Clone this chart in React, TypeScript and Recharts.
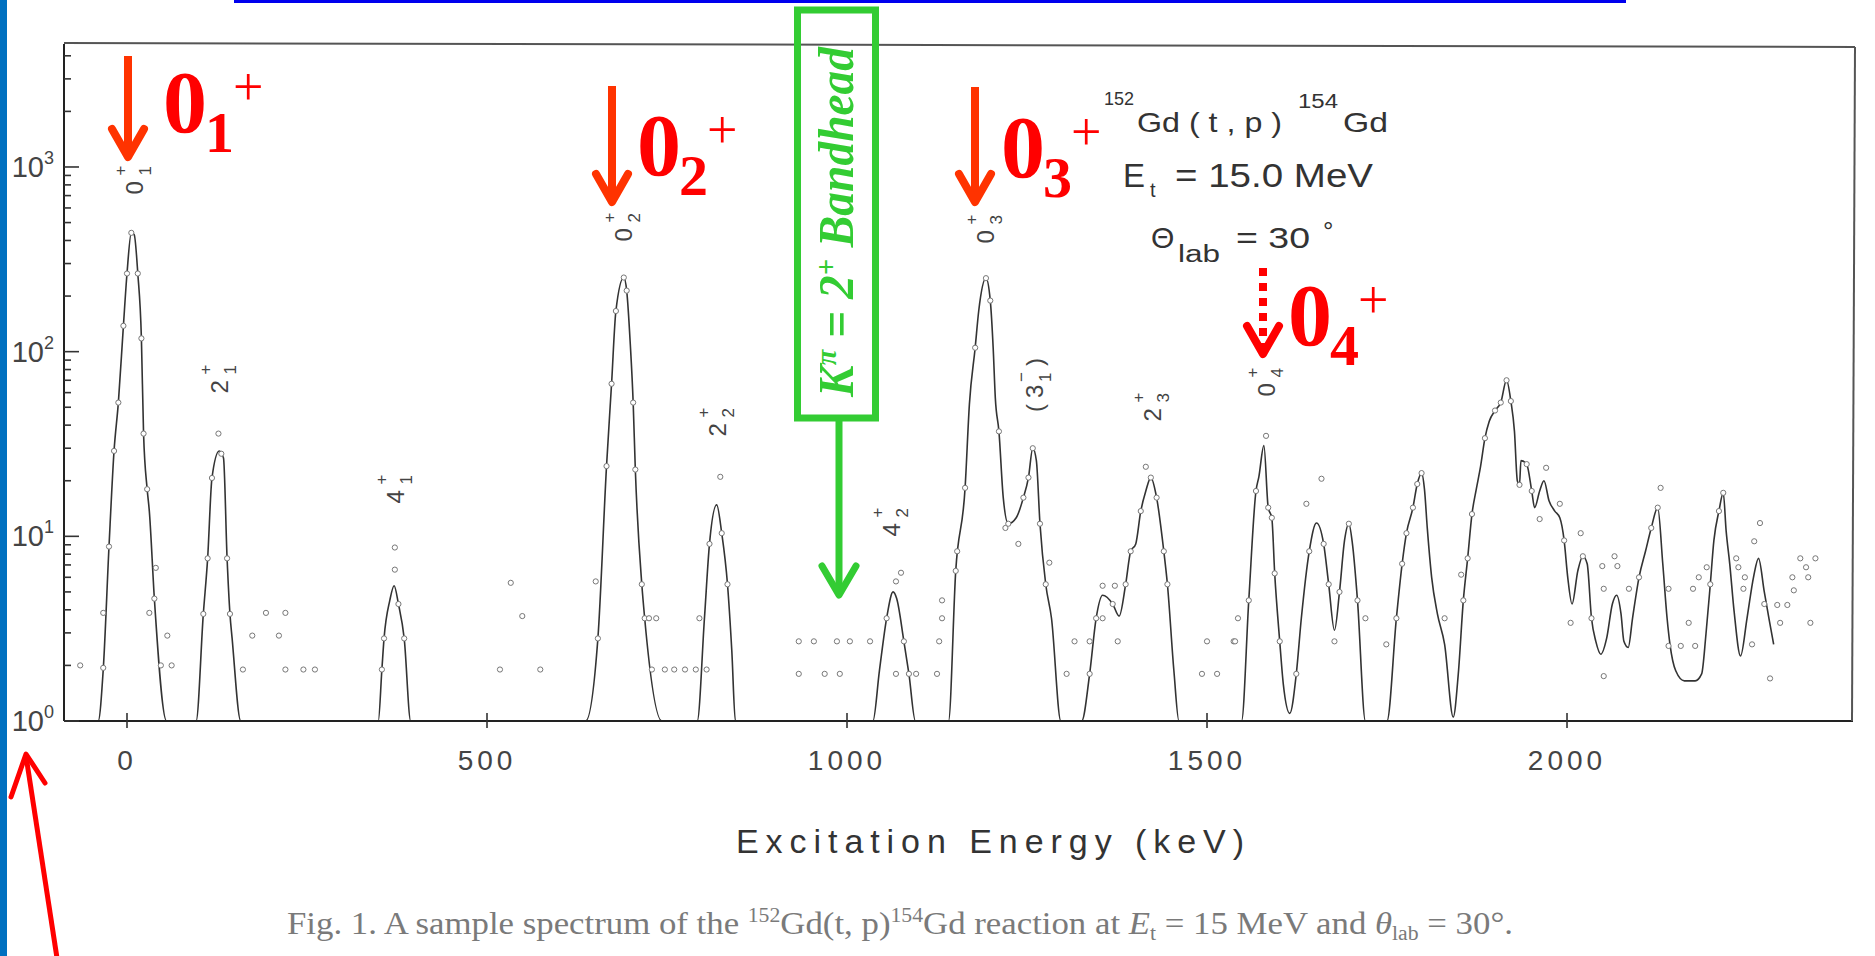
import React from 'react';
import { ComposedChart, Line, Scatter, XAxis, YAxis } from 'recharts';

// ---------- data ----------
const xTicks = [0, 500, 1000, 1500, 2000];
const yTicks = [
  1, 2, 3, 4, 5, 6, 7, 8, 9,
  10, 20, 30, 40, 50, 60, 70, 80, 90,
  100, 200, 300, 400, 500, 600, 700, 800, 900,
  1000, 2000, 3000, 4000,
];

// fitted curve (Excitation energy keV, counts)
const fitCurve: [number, number][] = [
  [-80, 1], [-40, 1], [-33, 1.9], [-25, 8.8], [-18, 29], [-12, 53], [-5, 138], [0, 265], [6, 440], [10, 430], [15, 265], [20, 118], [23, 36], [28, 18], [31, 13.7], [38, 4.6], [55, 1],
  [96, 1], [106, 3.8], [112, 7.6], [118, 20.7], [128, 29], [134, 26.6], [139, 7.6], [143, 3.8], [146, 2.8], [158, 1],
  [349, 1], [354, 1.9], [357, 2.8], [365, 4.5], [371, 5.4], [377, 4.3], [385, 2.8], [394, 1],
  [637, 1], [654, 2.8], [666, 24], [673, 67], [679, 166], [690, 252], [694, 214], [699, 110], [703, 53], [706, 23], [715, 5.5], [719, 3.6], [743, 1],
  [792, 1], [802, 3.6], [809, 9.1], [819, 14.8], [826, 10.4], [834, 5.5], [840, 2.4], [845, 1],
  [1036, 1], [1045, 1.87], [1055, 3.6], [1064, 5.0], [1069, 4.6], [1079, 2.7], [1086, 1.8], [1095, 1],
  [1141, 1], [1151, 6.5], [1164, 18.3], [1170, 52], [1178, 105], [1183, 167], [1193, 250], [1199, 189], [1203, 105], [1206, 56], [1211, 37], [1217, 16.2], [1224, 11.7], [1235, 12.6], [1245, 16.2], [1252, 20.8], [1258, 30], [1263, 25.7], [1268, 11.7], [1276, 5.5], [1284, 3.6], [1297, 1],
  [1326, 1], [1337, 1.8], [1346, 3.6], [1355, 4.8], [1369, 4.3], [1378, 3.7], [1387, 5.5], [1394, 8.3], [1401, 9.1], [1408, 13.7], [1415, 17.6], [1422, 20.8], [1430, 16.2], [1440, 8.3], [1445, 5.5], [1454, 1.87], [1461, 1],
  [1548, 1], [1558, 4.5], [1568, 17.6], [1572, 21], [1579, 31], [1585, 14.3], [1590, 12.6], [1594, 6.3], [1601, 2.7], [1606, 1.58], [1615, 1.1], [1624, 1.8], [1631, 3.6], [1642, 8.3], [1652, 11.8], [1662, 9.1], [1669, 5.5], [1677, 3.1], [1684, 5.0], [1691, 9.5], [1697, 11.7], [1702, 9.1], [1709, 4.5], [1720, 1],
  [1750, 1], [1763, 3.6], [1771, 7.1], [1777, 10.4], [1786, 14.3], [1792, 19.2], [1798, 22], [1802, 18], [1806, 11], [1812, 6.0], [1820, 3.8], [1830, 2.6], [1842, 1.05], [1849, 1.8], [1856, 4.5], [1862, 7.6], [1868, 13.2], [1874, 18], [1880, 24], [1886, 34], [1892, 42], [1900, 48], [1908, 53], [1916, 70], [1922, 54], [1927, 37], [1931, 20], [1934, 19], [1936, 25.7], [1944, 24.6], [1951, 17.6], [1955, 14.3], [1962, 17.6], [1968, 20], [1975, 15.6], [1983, 13.7], [1990, 12.6], [1996, 9.5], [2001, 6.0], [2007, 4.3], [2015, 6.5], [2022, 7.8], [2028, 7.1], [2034, 3.6], [2040, 2.7], [2047, 2.3], [2055, 2.8], [2063, 4.3], [2069, 4.8], [2075, 3.8], [2079, 2.7], [2085, 2.5], [2091, 3.6], [2100, 6.0], [2109, 8.3], [2117, 11.1], [2126, 14.3], [2133, 7.1], [2139, 3.6], [2143, 2.6], [2151, 1.87], [2163, 1.65], [2178, 1.65], [2187, 1.8], [2193, 2.96], [2199, 5.5], [2204, 9.5], [2211, 13.7], [2217, 17.2], [2221, 10.7], [2226, 7.1], [2232, 3.95], [2241, 2.25], [2250, 3.6], [2259, 6.0], [2266, 7.6], [2274, 5.0], [2281, 3.5], [2287, 2.6],
];

// measured data points (open circles)
const dataPoints: [number, number][] = [
  [-65, 2.0], [-33, 1.94], [-33, 3.85], [-25, 8.8], [-18, 29], [-12, 53], [-5, 138], [0, 265], [6, 440], [15, 265], [20, 118], [23, 36], [28, 18], [31, 3.85], [38, 4.6], [40, 6.75], [47, 2.0], [56, 2.9], [62, 2.0],
  [106, 3.8], [112, 7.6], [118, 20.7], [127, 36], [131, 28], [139, 7.6], [143, 3.8], [161, 1.9], [174, 2.9], [193, 3.85], [211, 2.9], [220, 3.85], [220, 1.9], [245, 1.9], [261, 1.9],
  [357, 2.8], [354, 1.9], [372, 8.7], [372, 6.6], [377, 4.3], [385, 2.8],
  [518, 1.9], [533, 5.6], [549, 3.7], [574, 1.9],
  [651, 5.7], [654, 2.8], [666, 24], [673, 67], [679, 166], [690, 252], [694, 214], [703, 53], [706, 23], [715, 5.5], [719, 3.6], [725, 3.6], [735, 3.6], [729, 1.9], [747, 1.9], [760, 1.9], [775, 1.9], [790, 1.9],
  [795, 3.6], [809, 9.1], [824, 21], [826, 10.4], [834, 5.5], [805, 1.9],
  [933, 2.7], [954, 2.7], [986, 2.7], [1004, 2.7], [1032, 2.7], [933, 1.8], [969, 1.8], [990, 1.8], [1068, 1.8], [1096, 1.8], [1125, 1.8],
  [1055, 3.6], [1068, 5.7], [1075, 6.35], [1079, 2.7], [1086, 1.8],
  [1128, 2.7], [1132, 3.6], [1132, 4.5], [1151, 6.5], [1153, 8.3], [1164, 18.3], [1178, 105], [1193, 250], [1199, 189], [1211, 37], [1220, 11.1], [1224, 11.7], [1238, 9.1], [1245, 16.2], [1252, 20.8], [1258, 30], [1268, 11.7], [1276, 5.5], [1281, 7.2], [1305, 1.8],
  [1316, 2.7], [1337, 2.7], [1337, 1.8], [1346, 3.6], [1355, 5.4], [1372, 5.4], [1355, 3.6], [1369, 4.3], [1376, 2.7], [1387, 5.5], [1394, 8.3], [1408, 13.7], [1415, 23.8], [1422, 20.8], [1430, 16.2], [1440, 8.3], [1445, 5.5],
  [1493, 1.8], [1500, 2.7], [1514, 1.8], [1537, 2.7], [1539, 2.7], [1543, 3.6],
  [1558, 4.5], [1568, 17.6], [1582, 35], [1585, 14.3], [1590, 12.6], [1594, 6.3], [1601, 2.7], [1624, 1.8], [1638, 15], [1642, 8.3], [1659, 20.5], [1662, 9.1], [1669, 5.5], [1677, 2.7], [1684, 5.0], [1697, 11.7], [1709, 4.5], [1720, 3.6],
  [1749, 2.6], [1763, 3.6], [1771, 7.1], [1777, 10.4], [1786, 14.3], [1792, 19.2], [1798, 22], [1830, 3.6], [1853, 6.2], [1856, 4.5], [1862, 7.6], [1868, 13.2], [1886, 34], [1900, 48], [1908, 53], [1916, 70], [1922, 54], [1934, 19], [1944, 24.6], [1951, 17.6], [1962, 12.4], [1971, 23.5], [1990, 15], [1996, 9.5], [2005, 3.4], [2019, 10.4], [2022, 7.8], [2034, 3.6], [2049, 6.9], [2051, 5.2], [2051, 1.75], [2066, 7.8], [2070, 6.9], [2086, 5.2], [2100, 6.0], [2117, 11.1], [2126, 14.3], [2130, 18.3], [2141, 5.2], [2141, 2.55], [2158, 2.55], [2169, 3.4], [2175, 5.2], [2178, 2.55], [2183, 6.0], [2194, 6.8], [2199, 5.5], [2211, 13.7], [2217, 17.2], [2235, 7.6], [2238, 6.8], [2245, 5.2], [2247, 6.0], [2257, 2.6], [2260, 9.4], [2268, 11.8], [2274, 4.3], [2282, 1.7], [2292, 4.25], [2296, 3.4], [2306, 4.25], [2313, 6.0], [2315, 5.1], [2324, 7.6], [2332, 6.8], [2335, 6.0], [2338, 3.4], [2345, 7.6],
];

// state labels over the peaks (main, superscript, subscript)
const peakLabels = [
  { cx: 134, cy: 188, m: '0', sup: '+', sub: '1' },
  { cx: 219, cy: 387, m: '2', sup: '+', sub: '1' },
  { cx: 395, cy: 497, m: '4', sup: '+', sub: '1' },
  { cx: 623, cy: 235, m: '0', sup: '+', sub: '2' },
  { cx: 717, cy: 430, m: '2', sup: '+', sub: '2' },
  { cx: 891, cy: 530, m: '4', sup: '+', sub: '2' },
  { cx: 985, cy: 237, m: '0', sup: '+', sub: '3' },
  { cx: 1152, cy: 415, m: '2', sup: '+', sub: '3' },
  { cx: 1266, cy: 390, m: '0', sup: '+', sub: '4' },
];

const redArrows = [
  { x: 128, top: 56, tip: 160, color: '#ff3300', dashed: false },
  { x: 612, top: 86, tip: 205, color: '#ff3300', dashed: false },
  { x: 975, top: 87, tip: 205, color: '#ff3300', dashed: false },
  { x: 1263, top: 268, tip: 357, color: '#ff0000', dashed: true },
];
const redLabels = [
  { x: 163, y: 132, sub: '1' },
  { x: 637, y: 175, sub: '2' },
  { x: 1001, y: 177, sub: '3' },
  { x: 1288, y: 345, sub: '4' },
];

// ---------- layout ----------
const W = 1875;
const H = 956;
const PLOT_LEFT = 64;
const PLOT_RIGHT = 1853;
const PLOT_TOP = 44;
const PLOT_BOTTOM = 721;
const X_DOMAIN: [number, number] = [-87.5, 2397.2];
const Y_DOMAIN: [number, number] = [1, 4634];

const curveData = fitCurve.map(([e, v]) => ({ e, v }));
const pointData = dataPoints.map(([e, v]) => ({ e, v }));

const SANS = 'Liberation Sans, DejaVu Sans, sans-serif';
const SERIF = 'Liberation Serif, DejaVu Serif, serif';

const YTick = (props: any) => {
  const { y, payload } = props;
  const v = payload.value as number;
  const lg = Math.log10(v);
  const major = Math.abs(lg - Math.round(lg)) < 1e-6;
  const x = PLOT_LEFT;
  return (
    <g>
      <line x1={x} x2={x + (major ? 15 : 7)} y1={y} y2={y} stroke="#333" strokeWidth={1.6} />
      {major && (
        <text x={x - 10} y={y + 10} textAnchor="end" fontFamily={SANS} fontSize={29} fill="#444">
          10
          <tspan dy={-13} fontSize={18}>{Math.round(lg)}</tspan>
        </text>
      )}
    </g>
  );
};

const XTick = (props: any) => {
  const { x, payload } = props;
  return (
    <g>
      <line x1={x} x2={x} y1={PLOT_BOTTOM - 8} y2={PLOT_BOTTOM + 7} stroke="#333" strokeWidth={1.6} />
      <text x={x} y={770} textAnchor="middle" fontFamily={SANS} fontSize={28} letterSpacing={4} fill="#444">
        {payload.value}
      </text>
    </g>
  );
};

const Circle = (p: any) => (
  <circle cx={p.cx} cy={p.cy} r={2.6} fill="#fff" stroke="#777" strokeWidth={1} />
);

function Arrow({ x, top, tip, color, dashed }: any) {
  return (
    <g>
      <line x1={x} y1={top} x2={x} y2={tip - 6} stroke={color} strokeWidth={8}
        strokeDasharray={dashed ? '8 7' : undefined} />
      <polyline points={`${x - 16},${tip - 31} ${x},${tip - 3} ${x + 16},${tip - 31}`}
        fill="none" stroke={color} strokeWidth={8} strokeLinecap="round" strokeLinejoin="round" />
    </g>
  );
}

function RedLabel({ x, y, sub }: any) {
  return (
    <g fill="#ff0000" fontFamily={SERIF}>
      <text x={x} y={y} fontSize={88} fontWeight="bold">0</text>
      <text x={x + 42} y={y + 20} fontSize={58} fontWeight="bold">{sub}</text>
      <text x={x + 70} y={y - 27} fontSize={54}>+</text>
    </g>
  );
}

function PeakLabel({ cx, cy, m, sup, sub }: any) {
  return (
    <g transform={`translate(${cx + 8.5},${cy + 6.5}) rotate(-90)`} fontFamily={SANS} fill="#444">
      <text x={0} y={0} fontSize={24}>{m}</text>
      <text x={19} y={-16.5} fontSize={17}>{sup}</text>
      <text x={19} y={8.5} fontSize={17}>{sub}</text>
    </g>
  );
}

function Overlay() {
  return (
    <svg width={W} height={H} style={{ position: 'absolute', left: 0, top: 0, pointerEvents: 'none' }}>
      {/* slide decorations */}
      <rect x={0} y={0} width={7} height={H} fill="#0070c0" />
      <rect x={234} y={0} width={1392} height={3} fill="#0000ee" />

      {/* frame top & right */}
      <line x1={PLOT_LEFT} y1={43} x2={PLOT_RIGHT + 2} y2={47} stroke="#555" strokeWidth={2} />
      <line x1={PLOT_RIGHT + 2} y1={47} x2={PLOT_RIGHT - 1} y2={PLOT_BOTTOM} stroke="#555" strokeWidth={2} />

      {/* peak state labels */}
      {peakLabels.map((l, i) => <PeakLabel key={i} {...l} />)}
      <g transform="translate(1043,412) rotate(-90)" fontFamily={SANS} fill="#444">
        <text x={0} y={0} fontSize={24}>(</text>
        <text x={14} y={0} fontSize={24}>3</text>
        <text x={30} y={-16} fontSize={17}>−</text>
        <text x={30} y={8} fontSize={17}>1</text>
        <text x={46} y={0} fontSize={24}>)</text>
      </g>

      {/* reaction info */}
      <g fontFamily={SANS} fill="#333">
        <text x={1104} y={105} fontSize={19} textLength={30} lengthAdjust="spacingAndGlyphs">152</text>
        <text x={1137} y={132} fontSize={28} textLength={145} lengthAdjust="spacingAndGlyphs">Gd ( t , p )</text>
        <text x={1298} y={108} fontSize={20} textLength={40} lengthAdjust="spacingAndGlyphs">154</text>
        <text x={1343} y={132} fontSize={28} textLength={45} lengthAdjust="spacingAndGlyphs">Gd</text>
        <text x={1123} y={187} fontSize={33}>E</text>
        <text x={1150} y={197} fontSize={20}>t</text>
        <text x={1175} y={187} fontSize={33} textLength={198} lengthAdjust="spacingAndGlyphs">= 15.0  MeV</text>
        <text x={1151} y={248} fontSize={30}>Θ</text>
        <text x={1178} y={262} fontSize={23} textLength={42} lengthAdjust="spacingAndGlyphs">lab</text>
        <text x={1236} y={248} fontSize={30} textLength={74} lengthAdjust="spacingAndGlyphs">= 30</text>
        <text x={1323} y={240} fontSize={26}>°</text>
      </g>

      {/* red annotations */}
      {redArrows.map((a, i) => <Arrow key={i} {...a} />)}
      {redLabels.map((l, i) => <RedLabel key={i} {...l} />)}

      {/* green band-head annotation */}
      <rect x={797.5} y={10} width={78} height={408} fill="none" stroke="#33cc33" strokeWidth={7} />
      <text transform="translate(853,397) rotate(-90)" fontFamily={SERIF} fontWeight="bold" fontStyle="italic"
        fontSize={50} fill="#33cc33" textLength={350} lengthAdjust="spacingAndGlyphs">
        K<tspan dy={-17} fontSize={30}>π</tspan><tspan dy={17}> = 2</tspan><tspan dy={-17} fontSize={30}>+</tspan><tspan dy={17}> Bandhead</tspan>
      </text>
      <line x1={839} y1={421} x2={839} y2={592} stroke="#33cc33" strokeWidth={7} />
      <polyline points="822,566 839,595 856,566" fill="none" stroke="#33cc33" strokeWidth={7}
        strokeLinecap="round" strokeLinejoin="round" />

      {/* bottom-left red arrow */}
      <line x1={57} y1={958} x2={26} y2={756} stroke="#ff0000" strokeWidth={5} />
      <polyline points="11,797 26,754 45,783" fill="none" stroke="#ff0000" strokeWidth={5}
        strokeLinecap="round" strokeLinejoin="round" />

      {/* axis title and caption */}
      <text x={736} y={853} fontFamily={SANS} fontSize={34} fill="#333" textLength={508} lengthAdjust="spacing">
        Excitation Energy (keV)
      </text>
      <text x={287} y={934} fontFamily={SERIF} fontSize={32} fill="#7a7a7a" textLength={1226} lengthAdjust="spacingAndGlyphs">
        Fig. 1. A sample spectrum of the <tspan dy={-12} fontSize={20}>152</tspan><tspan dy={12}>Gd(t, p)</tspan><tspan dy={-12} fontSize={20}>154</tspan><tspan dy={12}>Gd reaction at </tspan><tspan fontStyle="italic">E</tspan><tspan dy={6} fontSize={20}>t</tspan><tspan dy={-6}> = 15 MeV and </tspan><tspan fontStyle="italic">θ</tspan><tspan dy={6} fontSize={20}>lab</tspan><tspan dy={-6}> = 30°.</tspan>
      </text>
    </svg>
  );
}

export default function App() {
  return (
    <div style={{ position: 'absolute', left: 0, top: 0, width: W, height: H, background: '#fff', overflow: 'hidden' }}>
      <ComposedChart
        width={W}
        height={H}
        margin={{ top: PLOT_TOP, right: W - PLOT_RIGHT, bottom: H - PLOT_BOTTOM - 50, left: 0 }}
      >
        <XAxis
          type="number"
          dataKey="e"
          domain={X_DOMAIN}
          allowDataOverflow
          ticks={xTicks}
          tick={<XTick />}
          tickLine={false}
          tickSize={0}
          tickMargin={0}
          height={50}
          axisLine={{ stroke: '#222', strokeWidth: 2 }}
          interval={0}
        />
        <YAxis
          type="number"
          scale="log"
          domain={Y_DOMAIN}
          allowDataOverflow
          ticks={yTicks}
          tick={<YTick />}
          tickLine={false}
          tickSize={0}
          tickMargin={0}
          width={PLOT_LEFT}
          axisLine={{ stroke: '#222', strokeWidth: 2 }}
          interval={0}
        />
        <Line
          data={curveData}
          dataKey="v"
          type="monotone"
          stroke="#333"
          strokeWidth={1.6}
          dot={false}
          activeDot={false}
          isAnimationActive={false}
        />
        <Scatter data={pointData} dataKey="v" shape={Circle} isAnimationActive={false} />
      </ComposedChart>
      <Overlay />
    </div>
  );
}
